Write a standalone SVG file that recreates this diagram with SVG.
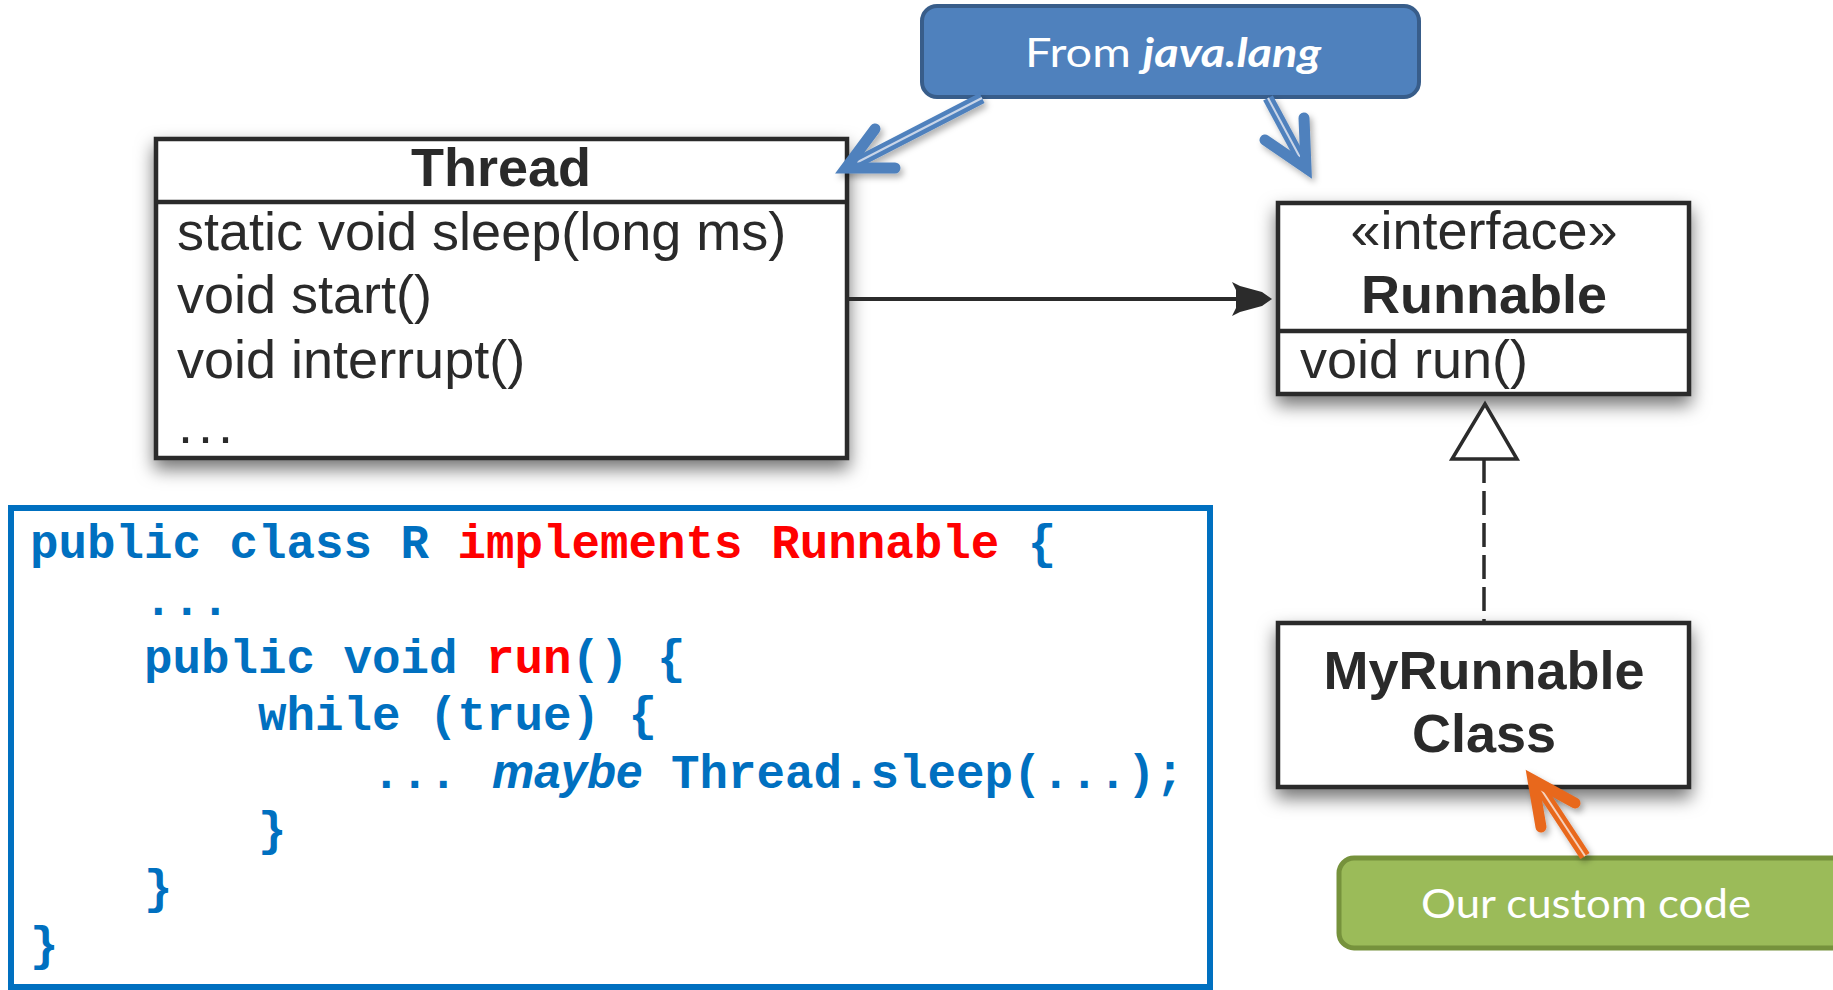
<svg xmlns="http://www.w3.org/2000/svg" width="1833" height="990" viewBox="0 0 1833 990">
<style>
.box{fill:#fff;stroke:#2b2b2b;stroke-width:4.5}
.div{stroke:#2b2b2b;stroke-width:4.5}
.uml{font-family:"Liberation Sans",Arial,sans-serif;font-size:54px;fill:#2b2b2b}
.umlb{font-family:"Liberation Sans",Arial,sans-serif;font-size:54px;font-weight:bold;fill:#2b2b2b}
.code{font-family:"Liberation Mono","Courier New",monospace;font-size:47.5px;font-weight:bold;fill:#0070C0}
.red{fill:#FF0000}
.callout{font-family:Lato,"Open Sans",sans-serif;font-size:40px;fill:#fff}
.barrow{fill:none;stroke:#4F81BD;stroke-width:11;stroke-linecap:round;stroke-linejoin:miter}
.oarrow{fill:none;stroke:#E8681E;stroke-width:11;stroke-linecap:round;stroke-linejoin:miter}
</style>
<defs>
<filter id="sh" x="-20%" y="-20%" width="140%" height="150%">
<feDropShadow dx="0" dy="9" stdDeviation="9" flood-color="#000" flood-opacity="0.55"/>
</filter>
<filter id="ash" x="-30%" y="-30%" width="160%" height="160%">
<feDropShadow dx="3" dy="4" stdDeviation="3" flood-color="#000" flood-opacity="0.3"/>
</filter>
</defs>
<rect width="1833" height="990" fill="#fff"/>

<g id="thread" filter="url(#sh)">
<rect class="box" x="156" y="139" width="691" height="319"/>
<line class="div" x1="156" y1="202" x2="847" y2="202"/>
<text class="umlb" x="501" y="186" text-anchor="middle">Thread</text>
<text class="uml" x="177" y="250">static void sleep(long ms)</text>
<text class="uml" x="177" y="313">void start()</text>
<text class="uml" x="177" y="378">void interrupt()</text>
<text class="uml" x="178" y="443" letter-spacing="5">...</text>
</g>

<g id="runnable" filter="url(#sh)">
<rect class="box" x="1278" y="203" width="411" height="191"/>
<line class="div" x1="1278" y1="331" x2="1689" y2="331"/>
<text class="uml" x="1484" y="249" text-anchor="middle">«interface»</text>
<text class="umlb" x="1484" y="313" text-anchor="middle">Runnable</text>
<text class="uml" x="1300" y="378">void run()</text>
</g>

<g id="myrunnable" filter="url(#sh)">
<rect class="box" x="1278" y="623" width="411" height="164"/>
<text class="umlb" x="1484" y="689" text-anchor="middle">MyRunnable</text>
<text class="umlb" x="1484" y="752" text-anchor="middle">Class</text>
</g>

<g id="code">
<rect x="11" y="508" width="1199" height="479" fill="#fff" stroke="#0070C0" stroke-width="6"/>
<text class="code" x="30" y="558">public class R <tspan class="red">implements Runnable</tspan> {</text>
<text class="code" x="144" y="615">...</text>
<text class="code" x="144" y="673">public void <tspan class="red">run</tspan>() {</text>
<text class="code" x="258" y="730">while (true) {</text>
<text class="code" x="372" y="788">...</text>
<text x="492" y="788" font-family="'Liberation Sans',Arial,sans-serif" font-size="47.5" font-weight="bold" font-style="italic" fill="#0070C0">maybe</text>
<text class="code" x="671" y="788">Thread.sleep(...);</text>
<text class="code" x="258" y="845">}</text>
<text class="code" x="144" y="903">}</text>
<text class="code" x="30" y="960">}</text>
</g>

<g id="from-java-lang">
<rect x="922" y="6" width="497" height="91" rx="15" fill="#4F81BD" stroke="#385D8A" stroke-width="4"/>
<text class="callout" x="1025" y="67" textLength="296" lengthAdjust="spacingAndGlyphs">From <tspan font-weight="bold" font-style="italic">java.lang</tspan></text>
</g>

<g id="our-custom-code">
<rect x="1339" y="858" width="530" height="90" rx="15" fill="#9BBB59" stroke="#76923C" stroke-width="5"/>
<text class="callout" x="1421" y="918" font-size="44" textLength="330" lengthAdjust="spacingAndGlyphs">Our custom code</text>
</g>

<g id="connectors">
<line x1="847" y1="299" x2="1240" y2="299" stroke="#2b2b2b" stroke-width="4"/>
<polygon points="1272,299 1262,306 1240,312 1232,316 1236,308 1236,290 1232,282 1240,286 1262,292" fill="#2b2b2b"/>
<line x1="1484" y1="459" x2="1484" y2="622" stroke="#2b2b2b" stroke-width="3.5" stroke-dasharray="24,8"/>
<polygon points="1485,404 1452,459 1517,459" fill="#fff" stroke="#2b2b2b" stroke-width="3.5"/>
<g filter="url(#ash)">
<line x1="982" y1="98" x2="852" y2="165" stroke="#4F81BD" stroke-width="11"/>
<line x1="982" y1="98" x2="852" y2="165" stroke="#c9d5e8" stroke-width="2"/>
<polyline class="barrow" points="875,129 846,168 895,168"/>
<line x1="1268" y1="98" x2="1303" y2="163" stroke="#4F81BD" stroke-width="11"/>
<line x1="1268" y1="98" x2="1303" y2="163" stroke="#c9d5e8" stroke-width="2"/>
<polyline class="barrow" points="1265,140 1306,168 1304,118"/>
<line x1="1585" y1="856" x2="1537" y2="783" stroke="#E8681E" stroke-width="11"/>
<line x1="1585" y1="856" x2="1537" y2="783" stroke="#f6d2bd" stroke-width="2"/>
<polyline class="oarrow" points="1541,827 1533,780 1575,803"/>
</g>
</g>
</svg>
